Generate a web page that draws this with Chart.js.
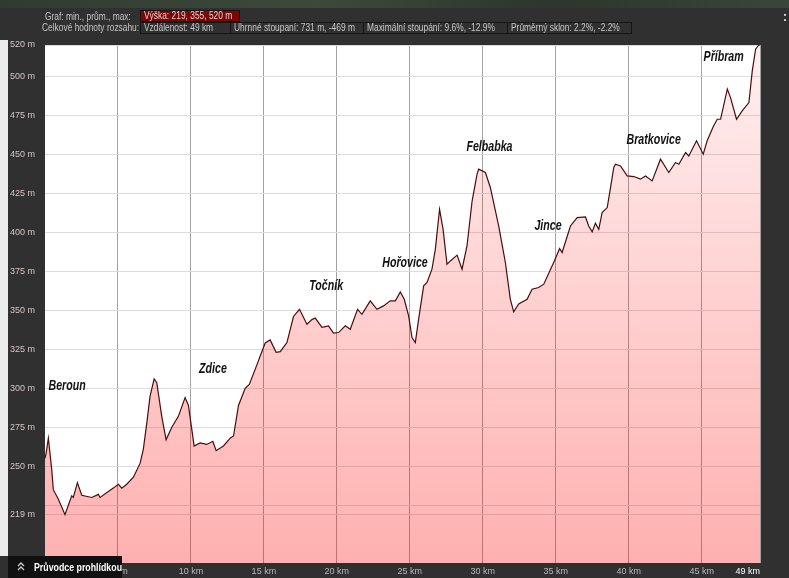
<!doctype html>
<html>
<head>
    <meta charset="utf-8">
    <title>Výškový profil Beroun - Příbram</title>
    <script src="https://cdn.jsdelivr.net/npm/chart.js@4.4.0/dist/chart.umd.min.js"></script>
    <style>
    body { margin: 0; background: #303030; width: 789px; height: 578px; overflow: hidden; position: relative; font-family: 'Liberation Sans', Arial, sans-serif; }
    #topstrip { position: absolute; left: 0; top: 0; width: 789px; height: 8px; background: linear-gradient(90deg, #2f3b2f, #3d4a3a 40%, #2c362c 70%, #3a463a); }
    #leftstrip { position: absolute; left: 0; top: 40px; width: 8px; height: 516px; background: #ececec; }
    #container { position: absolute; left: 0; top: 0; width: 789px; height: 578px; }
    .hd { position: absolute; font-size: 10px; color: #c4c4c4; white-space: nowrap; line-height: 11px; }
    .box { position: absolute; height: 10px; border: 1px solid #151515; font-size: 10px; color: #c8c8c8; line-height: 10px; padding-left: 3px; white-space: nowrap; box-sizing: content-box; overflow: hidden; }
    .hd span, .box span { display: inline-block; transform: scaleX(0.84); transform-origin: left center; }
    #guide { position: absolute; left: 8px; top: 556px; width: 114px; height: 22px; background: #111; color: #fff; font-weight: bold; font-size: 11px; line-height: 22px; white-space: nowrap; }
    #guide span { display: inline-block; transform: scaleX(0.8); transform-origin: left center; }
    #dots { position: absolute; left: 783px; top: 10px; color: #eee; font-weight: bold; font-size: 12px; }
    </style>
</head>

<body>
    <div id="topstrip"></div>
    <div id="leftstrip"></div>
    <div id="container">
        <canvas id="canvas" width="789" height="578"></canvas>
    </div>

    <div class="hd" style="left:45px; top:11px;"><span>Graf: min., prům., max:</span></div>
    <div class="box" style="left:140px; top:10px; width:95px; background:#7a0606; color:#e6d0d0;"><span>Výška: 219, 355, 520 m</span></div>
    <div class="hd" style="left:42px; top:22px;"><span>Celkové hodnoty rozsahu:</span></div>
    <div class="box" style="left:140px; top:22px; width:86px;"><span>Vzdálenost: 49 km</span></div>
    <div class="box" style="left:230px; top:22px; width:129px;"><span>Úhrnné stoupaní: 731 m, -469 m</span></div>
    <div class="box" style="left:363px; top:22px; width:140px;"><span>Maximální stoupání: 9.6%, -12.9%</span></div>
    <div class="box" style="left:507px; top:22px; width:120px;"><span>Průměrný sklon: 2.2%, -2.2%</span></div>
    <div id="dots">:</div>
    <div id="guide">
        <svg width="26" height="22" style="vertical-align:top; float:left;">
            <polyline points="10,10 13,7 16,10" fill="none" stroke="#ccc" stroke-width="1.3"/>
            <polyline points="10,14 13,11 16,14" fill="none" stroke="#ccc" stroke-width="1.3"/>
        </svg><span>Průvodce prohlídkou</span>
    </div>

    <script>
        // profil trasy: vzdálenost (km) a výška (m)
        var km = [
            0, 0.07, 0.23, 0.46, 0.57, 0.91, 1.37, 1.83, 1.94, 2.22, 2.52, 3.20, 3.66, 3.77, 4.68, 5.03, 5.26, 5.60,
            6.06, 6.52, 6.74, 6.98, 7.20, 7.48, 7.66, 8.00, 8.30, 8.69, 9.14, 9.60, 9.83, 10.22, 10.63, 11.09,
            11.50, 11.73, 12.23, 12.69, 12.92, 13.26, 13.72, 14.01, 14.52, 15.09, 15.43, 15.84, 16.12, 16.58,
            17.03, 17.44, 17.95, 18.29, 18.52, 18.98, 19.43, 19.77, 20.12, 20.58, 20.92, 21.42, 21.72, 22.29,
            22.75, 23.20, 23.66, 24.01, 24.35, 24.62, 24.92, 25.15, 25.38, 25.60, 25.95, 26.18, 26.52, 26.75,
            27.04, 27.28, 27.55, 27.78, 28.24, 28.58, 28.92, 29.27, 29.61, 29.72, 30.18, 30.52, 31.09, 31.55,
            31.89, 32.12, 32.46, 33.04, 33.38, 33.83, 34.18, 34.86, 35.27, 35.44, 36.01, 36.47, 37.04, 37.26,
            37.50, 37.72, 37.95, 38.18, 38.53, 38.70, 38.98, 39.09, 39.44, 39.90, 40.35, 40.81, 41.15, 41.61,
            42.18, 42.75, 43.21, 43.44, 43.90, 44.12, 44.65, 45.11, 45.38, 45.80, 46.07, 46.30, 46.76, 46.98,
            47.39, 47.78, 48.24, 48.47, 48.70, 48.92, 49
        ];
        var elev = [
            255, 258, 268, 248, 235, 229, 219, 231, 230, 239.5, 231.4, 230, 232, 230, 236, 238.5, 236, 238.5,
            243, 252, 261, 278, 295, 306, 303.6, 282, 267, 275, 282, 294, 289, 263, 265, 264,
            266, 260, 263, 268, 269.4, 289, 300, 302.6, 315, 329, 331, 323, 323.5, 329.3,
            346, 350.6, 341, 344, 345, 339, 340, 335.3, 335.7, 340, 337.8, 350.6, 347.4, 356,
            350.6, 352.8, 356, 356, 361.7, 357, 346.4, 332.5, 329.3, 344, 365.6, 367.8, 376.3, 389,
            414.7, 402, 379.5, 381.6, 385.3, 376.3, 391.2, 420, 437.2, 440.4, 438.3, 428.7, 404, 380.6,
            357, 349, 354, 357, 363.5, 364.6, 366.7, 380.6, 389.5, 387, 404, 409.4, 409.8, 404,
            400.2, 405.8, 401.9, 412.6, 415.8, 425.4, 441.5, 443.6, 442.5, 436.1, 435.7, 434, 436.1, 432.9,
            446.8, 438.3, 444.7, 443.6, 451.1, 448.9, 458.6, 450, 458.6, 467.8, 472.4, 472.4, 491.7, 486.3,
            472.4, 477.8, 483.1, 503.4, 517.3, 520, 520
        ];

        // popisky míst (levý okraj textu v km, výška středu textu v m)
        var placeNames = ["Beroun", "Zdice", "Točník", "Hořovice", "Felbabka", "Jince", "Bratkovice", "Příbram"];
        var placeKm = [0.24, 10.56, 18.11, 23.11, 28.88, 33.54, 39.85, 45.13];
        var placeElev = [301.3, 312.2, 365.4, 380.1, 454.5, 403.8, 459, 512.2];

        var yTicks = [219, 225, 250, 275, 300, 325, 350, 375, 400, 425, 450, 475, 500, 520];
        var xTicks = [0, 5, 10, 15, 20, 25, 30, 35, 40, 45, 49];

        var points = km.map(function(k, i) { return { x: k, y: elev[i] }; });

        var plotBackground = {
            id: 'plotBackground',
            beforeDraw: function(chart) {
                var a = chart.chartArea, c = chart.ctx;
                c.save();
                c.fillStyle = '#ffffff';
                c.fillRect(a.left, a.top, a.right - a.left, a.bottom - a.top);
                c.restore();
            }
        };

        var placeLabels = {
            id: 'placeLabels',
            afterDatasetsDraw: function(chart) {
                var c = chart.ctx, xs = chart.scales.x, ys = chart.scales.y;
                c.save();
                c.font = 'italic bold 14px "Liberation Sans", Arial, sans-serif';
                c.fillStyle = '#111';
                c.textBaseline = 'middle';
                c.textAlign = 'left';
                placeNames.forEach(function(name, i) {
                    var px = xs.getPixelForValue(placeKm[i]);
                    var py = ys.getPixelForValue(placeElev[i]);
                    c.save();
                    c.translate(px, py);
                    c.scale(0.76, 1);
                    c.fillText(name, 0, 0);
                    c.restore();
                });
                c.restore();
            }
        };

        window.onload = function() {
            var ctx = document.getElementById('canvas').getContext('2d');
            window.profile = new Chart(ctx, {
                type: 'line',
                data: {
                    datasets: [{
                        data: points,
                        borderColor: '#4a0c0c',
                        borderWidth: 1.2,
                        pointRadius: 0,
                        tension: 0,
                        fill: 'start',
                        backgroundColor: function(context) {
                            var area = context.chart.chartArea;
                            if (!area) return 'rgba(255,0,0,0.2)';
                            var g = context.chart.ctx.createLinearGradient(0, area.top, 0, area.bottom);
                            g.addColorStop(0, 'rgba(255,0,0,0.06)');
                            g.addColorStop(1, 'rgba(255,0,0,0.31)');
                            return g;
                        }
                    }]
                },
                options: {
                    responsive: false,
                    animation: false,
                    layout: { padding: { left: 10, top: 45, right: 29, bottom: 0 } },
                    plugins: {
                        legend: { display: false },
                        tooltip: { enabled: false }
                    },
                    scales: {
                        x: {
                            type: 'linear',
                            min: 0,
                            max: 49,
                            afterBuildTicks: function(scale) {
                                scale.ticks = xTicks.map(function(v) { return { value: v }; });
                            },
                            afterFit: function(scale) { scale.height = 15; },
                            border: { display: false },
                            grid: {
                                color: function(c) { return c.tick && c.tick.value === 0 ? 'rgba(0,0,0,0)' : '#a2a2a2'; },
                                drawTicks: false
                            },
                            ticks: {
                                autoSkip: false,
                                maxRotation: 0,
                                align: 'inner',
                                padding: 3,
                                font: { family: '"Liberation Sans", Arial, sans-serif', size: 9 },
                                color: function(c) { return c.tick && c.tick.value === 49 ? '#ffffff' : '#b8b8b8'; },
                                callback: function(v) { return v === 0 ? '' : v + ' km'; }
                            }
                        },
                        y: {
                            min: 188,
                            max: 520,
                            afterBuildTicks: function(scale) {
                                scale.ticks = yTicks.map(function(v) { return { value: v }; });
                            },
                            afterFit: function(scale) { scale.width = 35; },
                            border: { display: false },
                            grid: { color: '#dddddd', drawTicks: false },
                            ticks: {
                                autoSkip: false,
                                crossAlign: 'far',
                                padding: 0,
                                font: { family: '"Liberation Sans", Arial, sans-serif', size: 9 },
                                color: '#d8c6c6',
                                callback: function(v) { return v === 225 ? '' : v + ' m'; }
                            }
                        }
                    }
                },
                plugins: [plotBackground, placeLabels]
            });
        };
    </script>
</body>
</html>
